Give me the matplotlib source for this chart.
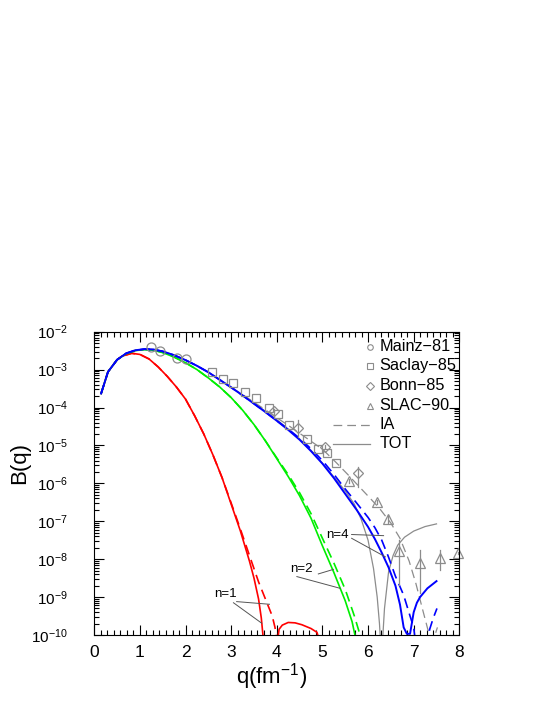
import numpy as np
import matplotlib
matplotlib.use('Agg')
import matplotlib.pyplot as plt
from matplotlib.ticker import LogLocator, NullFormatter, AutoMinorLocator, MultipleLocator

plt.rcParams['font.family'] = ['Liberation Sans', 'DejaVu Sans']
plt.rcParams['mathtext.default'] = 'regular'

# curves, values read as log10 B(q)
q_start = [0.15, 0.3, 0.5]
b_start = [-3.63, -3.06, -2.74]

red_tot_q = q_start + [0.6, 0.82, 1.0, 1.2, 1.4, 1.6, 1.8, 2.0, 2.2, 2.4, 2.6, 2.8, 3.0, 3.2, 3.4, 3.5,
                       3.6, 3.66, 3.72]
red_tot_b = b_start + [-2.65, -2.57, -2.6, -2.72, -2.93, -3.18, -3.46, -3.78, -4.22, -4.7, -5.25, -5.85,
                       -6.55, -7.25, -8.05, -8.5, -9.05, -9.55, -10.3]
red_ia_q = q_start + [0.6, 0.82, 1.0, 1.2, 1.4, 1.6, 1.8, 2.0, 2.2, 2.4, 2.6, 2.8, 3.0, 3.2, 3.4, 3.6,
                      3.7, 3.8, 3.9, 3.96, 4.02]
red_ia_b = b_start + [-2.65, -2.57, -2.6, -2.72, -2.93, -3.18, -3.46, -3.78, -4.22, -4.7, -5.25, -5.85,
                      -6.52, -7.2, -7.9, -8.6, -8.9, -9.2, -9.5, -9.8, -10.3]
red_lobe_q = [4.0, 4.05, 4.12, 4.25, 4.4, 4.55, 4.75, 4.88, 4.97]
red_lobe_b = [-10.3, -9.85, -9.74, -9.67, -9.68, -9.73, -9.83, -9.93, -10.3]

green_tot_q = q_start + [0.7, 0.9, 1.1, 1.3, 1.5, 1.75, 2.0, 2.25, 2.5, 2.75, 3.0, 3.25, 3.5, 3.75, 4.0,
                         4.25, 4.5, 4.75, 5.0, 5.25, 5.5, 5.65, 5.73]
green_tot_b = b_start + [-2.58, -2.5, -2.47, -2.49, -2.55, -2.67, -2.82, -3.0, -3.22, -3.46, -3.74, -4.07,
                         -4.45, -4.88, -5.35, -5.82, -6.33, -6.92, -7.65, -8.35, -9.1, -9.65, -10.1]
green_ia_q = q_start + [0.7, 0.9, 1.1, 1.3, 1.5, 1.75, 2.0, 2.25, 2.5, 2.75, 3.0, 3.25, 3.5, 3.75, 4.0,
                        4.25, 4.5, 4.75, 5.0, 5.25, 5.5, 5.7, 5.85]
green_ia_b = b_start + [-2.58, -2.5, -2.47, -2.49, -2.55, -2.67, -2.82, -3.0, -3.22, -3.46, -3.74, -4.07,
                        -4.45, -4.88, -5.33, -5.77, -6.25, -6.8, -7.45, -8.1, -8.8, -9.5, -10.1]

blue_tot_q = q_start + [0.7, 0.9, 1.1, 1.3, 1.5, 1.75, 2.0, 2.25, 2.5, 2.75, 3.0, 3.25, 3.5, 3.75, 4.0,
                        4.25, 4.5, 4.75, 5.0, 5.25, 5.5, 5.75, 6.0, 6.15, 6.3, 6.45, 6.6, 6.7, 6.78,
                        6.85, 6.92, 7.0, 7.07, 7.14, 7.3, 7.5]
blue_tot_b = b_start + [-2.57, -2.49, -2.46, -2.47, -2.52, -2.62, -2.75, -2.9, -3.07, -3.27, -3.47, -3.68,
                        -3.9, -4.12, -4.35, -4.59, -4.85, -5.15, -5.48, -5.86, -6.28, -6.7, -7.15, -7.47,
                        -7.83, -8.22, -8.7, -9.2, -9.8, -9.97, -9.97, -9.4, -9.15, -9.0, -8.77, -8.58]
blue_ia_q = q_start + [0.7, 0.9, 1.1, 1.3, 1.5, 1.75, 2.0, 2.25, 2.5, 2.75, 3.0, 3.25, 3.5, 3.75, 4.0,
                       4.25, 4.5, 4.75, 5.0, 5.25, 5.5, 5.75, 6.0, 6.15, 6.3, 6.45, 6.6, 6.78, 6.92,
                       7.0, 7.05]
blue_ia_b = b_start + [-2.57, -2.49, -2.46, -2.47, -2.52, -2.62, -2.75, -2.9, -3.07, -3.27, -3.47, -3.68,
                       -3.9, -4.12, -4.35, -4.57, -4.81, -5.09, -5.4, -5.76, -6.15, -6.52, -6.9, -7.17,
                       -7.5, -7.95, -8.45, -8.95, -9.5, -9.8, -10.3]
blue_ia_lobe_q = [7.28, 7.35, 7.43, 7.51]
blue_ia_lobe_b = [-10.3, -9.85, -9.55, -9.3]

gray_tot_q = q_start + [0.7, 0.9, 1.1, 1.3, 1.5, 1.75, 2.0, 2.25, 2.5, 2.75, 3.0, 3.25, 3.5, 3.75, 4.0,
                        4.25, 4.5, 4.75, 5.0, 5.25, 5.5, 5.7, 5.85, 6.0, 6.12, 6.2, 6.25, 6.28]
gray_tot_b = b_start + [-2.57, -2.49, -2.46, -2.47, -2.52, -2.62, -2.75, -2.9, -3.07, -3.27, -3.47, -3.68,
                        -3.88, -4.1, -4.32, -4.57, -4.83, -5.13, -5.47, -5.83, -6.2, -6.55, -6.95, -7.5,
                        -8.25, -9.0, -9.7, -10.3]
gray_tot2_q = [6.31, 6.36, 6.45, 6.55, 6.65, 6.8, 7.0, 7.25, 7.5]
gray_tot2_b = [-10.3, -9.3, -8.33, -7.9, -7.63, -7.42, -7.26, -7.14, -7.07]
gray_ia_q = q_start + [0.7, 0.9, 1.1, 1.3, 1.5, 1.75, 2.0, 2.25, 2.5, 2.75, 3.0, 3.25, 3.5, 3.75, 4.0,
                       4.25, 4.5, 4.75, 5.0, 5.3, 5.55, 5.8, 6.05, 6.25, 6.5, 6.7, 6.9, 7.05, 7.2,
                       7.32, 7.37]
gray_ia_b = b_start + [-2.57, -2.49, -2.46, -2.47, -2.52, -2.62, -2.75, -2.9, -3.07, -3.27, -3.47, -3.66,
                       -3.86, -4.06, -4.27, -4.47, -4.68, -4.89, -5.1, -5.45, -5.76, -6.08, -6.4, -6.66,
                       -7.05, -7.45, -8.05, -8.65, -9.35, -9.9, -10.3]
gray_ia2_q = [7.44, 7.48, 7.52]
gray_ia2_b = [-10.3, -9.95, -9.8]

# experimental data, log10 B and error bar ends
mainz_q = [1.24, 1.44, 1.81, 2.00]
mainz_b = [-2.40, -2.50, -2.70, -2.72]
saclay_q = [2.59, 2.82, 3.04, 3.30, 3.54, 3.82, 4.02, 4.26, 4.66, 4.91, 5.11, 5.30]
saclay_b = [-3.07, -3.25, -3.36, -3.60, -3.76, -4.02, -4.18, -4.46, -4.83, -5.10, -5.19, -5.47]
bonn_q = [3.93, 4.47, 5.06, 5.78]
bonn_b = [-4.08, -4.55, -5.03, -5.72]
bonn_lo = [-4.13, -4.77, -5.08, -6.09]
bonn_hi = [-4.03, -4.33, -4.98, -5.56]
slac_q = [5.59, 6.19, 6.43, 6.67, 7.13, 7.57, 7.98]
slac_b = [-5.93, -6.49, -6.94, -7.78, -8.11, -7.98, -7.83]
slac_lo = [-5.98, -6.55, -7.05, -8.68, -8.89, -8.29, -7.86]
slac_hi = [-5.88, -6.43, -6.84, -7.50, -7.76, -7.76, -7.80]

legend_labels = ['Mainz\u221281', 'Saclay\u221285', 'Bonn\u221285', 'SLAC\u221290', 'IA', 'TOT']

# curve labels: text position and leader lines (q, log10 B)
ann_text = ['n=1', 'n=2', 'n=4']
ann_pos = [(2.87, -8.93), (4.55, -8.27), (5.32, -7.36)]
ann_lines = [
    [((3.05, -9.15), (3.67, -9.69)), ((3.12, -9.12), (3.84, -9.19))],
    [((4.91, -8.39), (5.24, -8.27)), ((4.44, -8.46), (5.39, -8.77))],
    [((5.64, -7.35), (6.34, -7.38)), ((5.64, -7.45), (6.38, -7.94))],
]


def pw(v):
    return 10.0 ** np.asarray(v)


fig = plt.figure(figsize=(5.54, 7.17), dpi=100)
ax = fig.add_axes([0.1702, 0.1144, 0.6589, 0.4230])
ax.set_yscale('log')

gray = '#8c8c8c'
gdash = (0, (7, 4))
ax.plot(gray_ia_q, pw(gray_ia_b), color=gray, lw=0.9, ls=gdash)
ax.plot(gray_ia2_q, pw(gray_ia2_b), color=gray, lw=0.9, ls=gdash)
ax.plot(gray_tot_q, pw(gray_tot_b), color=gray, lw=0.9)
ax.plot(gray_tot2_q, pw(gray_tot2_b), color=gray, lw=0.9)

dash = (0, (6, 3.5))
ax.plot(red_ia_q, pw(red_ia_b), color='#ff0000', lw=1.2, ls=dash)
ax.plot(red_tot_q, pw(red_tot_b), color='#ff0000', lw=1.2)
ax.plot(red_lobe_q, pw(red_lobe_b), color='#ff0000', lw=1.2)
ax.plot(green_ia_q, pw(green_ia_b), color='#00ee00', lw=1.2, ls=dash)
ax.plot(green_tot_q, pw(green_tot_b), color='#00ee00', lw=1.2)
ax.plot(blue_ia_q, pw(blue_ia_b), color='#0000ff', lw=1.2, ls=dash)
ax.plot(blue_ia_lobe_q, pw(blue_ia_lobe_b), color='#0000ff', lw=1.2, ls=dash)
ax.plot(blue_tot_q, pw(blue_tot_b), color='#0000ff', lw=1.4)

# data points
mk = dict(mfc='none', mec=gray, mew=0.9, ls='none', clip_on=False)
ax.plot(mainz_q, pw(mainz_b), marker='o', ms=6.5, **mk)
ax.plot(saclay_q, pw(saclay_b), marker='s', ms=6, **mk)
for qv, lo, hi in zip(bonn_q, bonn_lo, bonn_hi):
    ax.plot([qv, qv], pw([lo, hi]), color=gray, lw=0.9)
ax.plot(bonn_q, pw(bonn_b), marker='D', ms=5, **mk)
for qv, lo, hi in zip(slac_q, slac_lo, slac_hi):
    ax.plot([qv, qv], pw([lo, hi]), color=gray, lw=0.9, clip_on=False)
ax.plot(slac_q, pw(slac_b), marker='^', ms=7.5, **mk)

# curve labels
for txt, (tx, ty), lines in zip(ann_text, ann_pos, ann_lines):
    ax.text(tx, pw(ty), txt, fontsize=9.5, ha='center', va='center')
    for (x0, y0), (x1, y1) in lines:
        ax.plot([x0, x1], pw([y0, y1]), color='#555555', lw=0.7)

# legend drawn by hand so markers sit at the right end of the handle
leg_rows = [0.9506, 0.8869, 0.8210, 0.7560, 0.6924, 0.6297]
leg_marks = ['o', 's', 'D', '^']
for lab, yy in zip(legend_labels, leg_rows):
    ax.text(0.781, yy, lab, transform=ax.transAxes, fontsize=11.7, va='center', ha='left')
for m, yy in zip(leg_marks, leg_rows):
    ax.plot([0.755], [yy], transform=ax.transAxes, marker=m, ms=4, mfc='none', mec=gray, mew=0.8)
ax.plot([0.655, 0.755], [leg_rows[4]] * 2, transform=ax.transAxes, color=gray, lw=0.9, ls=gdash)
ax.plot([0.655, 0.755], [leg_rows[5]] * 2, transform=ax.transAxes, color=gray, lw=0.9)

ax.set_xlim(0, 8)
ax.set_ylim(1e-10, 1e-2)
ax.xaxis.set_major_locator(MultipleLocator(1))
ax.xaxis.set_minor_locator(AutoMinorLocator(7))
ax.yaxis.set_major_locator(LogLocator(base=10, numticks=20))
ax.yaxis.set_minor_locator(LogLocator(base=10, subs=np.arange(2, 10), numticks=100))
ax.yaxis.set_minor_formatter(NullFormatter())
ax.tick_params(which='both', direction='in', top=True, right=True, width=0.8)
ax.tick_params(which='major', length=7)
ax.tick_params(which='minor', length=3.5)
ax.tick_params(axis='x', which='major', labelsize=12.5, pad=7)
ax.tick_params(axis='y', which='major', labelsize=11, pad=19)
for sp in ax.spines.values():
    sp.set_linewidth(0.8)

ax.set_xlabel(r'q(fm$^{-1}$)', fontsize=16)
ax.xaxis.set_label_coords(0.486, -0.086)
ax.set_ylabel('B(q)', fontsize=16)
ax.yaxis.set_label_coords(-0.176, 0.567)

fig.savefig('out.png', dpi=100)
